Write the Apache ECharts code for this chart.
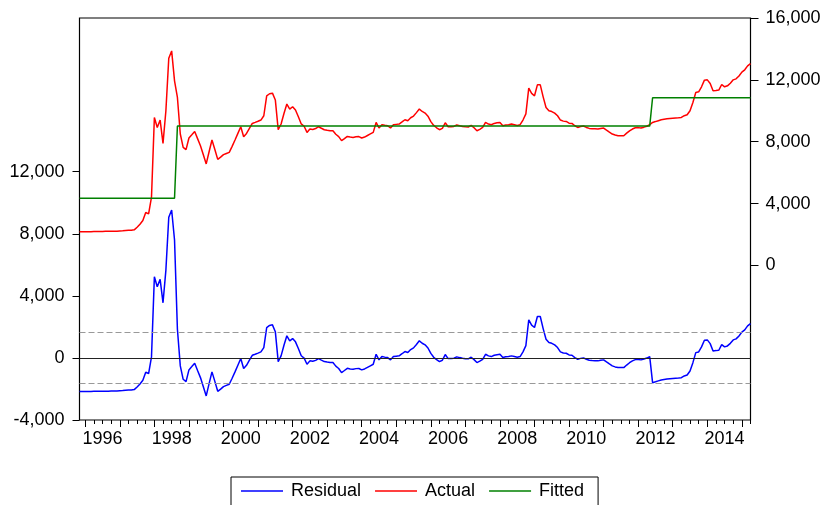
<!DOCTYPE html>
<html>
<head>
<meta charset="utf-8">
<script src="https://cdn.jsdelivr.net/npm/echarts@6/dist/echarts.min.js"></script>
<style>html,body{margin:0;padding:0;background:#fff}#c{width:824px;height:505px}</style>
</head>
<body>
<div id="c"></div>
<script>
// Monthly sample: 1995M11 .. 2015M4
const startYear = 1995, startMonth = 11;
const seriesNames = ['Residual', 'Actual', 'Fitted'];
const yearLabels = ['1996','1998','2000','2002','2004','2006','2008','2010','2012','2014'];
const leftTicks = [-4000, 0, 4000, 8000, 12000];
const rightTicks = [0, 4000, 8000, 12000, 16000];
const residualBand = 1650;

const actual = [
2170,2170,2175,2180,2180,2185,2190,2190,2195,2200,
2200,2205,2210,2215,2225,2235,2250,2265,2280,2300,
2470,2660,2900,3420,3335,4407,9568,8923,9400,7891,
10000,13400,13871,11935,10860,8497,7633,7484,8239,8450,
8665,8200,7742,7150,6561,7350,8110,7500,6858,7000,
7161,7240,7310,7700,8110,8540,8968,8323,8536,8860,
9181,9250,9320,9400,9678,10968,11100,11140,10700,8774,
9142,9826,10432,10110,10258,10045,9613,9150,9000,8600,
8820,8790,8850,8968,8870,8774,8740,8710,8710,8480,
8330,8065,8200,8342,8300,8278,8320,8330,8239,8300,
8400,8500,8600,9245,8884,9097,9060,9032,8884,9097,
9120,9142,9280,9420,9355,9550,9658,9880,10110,9955,
9852,9650,9300,9050,8900,8774,8858,9226,8968,8968,
8990,9078,9030,8987,8960,8949,9052,8900,8710,8800,
8923,9245,9142,9097,9181,9220,9245,9032,9080,9100,
9142,9100,9052,9097,9400,9800,11465,11120,10968,11678,
11678,10900,10213,10000,9950,9850,9678,9400,9330,9310,
9200,9181,9032,8923,8980,9013,8923,8860,8839,8830,
8820,8860,8884,8750,8620,8497,8430,8387,8387,8387,
8550,8700,8820,8900,8910,8884,8940,9000,9097,9245,
9300,9360,9420,9450,9480,9504,9520,9535,9550,9568,
9680,9742,10000,10536,11181,11226,11549,11981,12000,11762,
11291,11310,11336,11700,11549,11613,11780,12000,12065,12250,
12500,12650,12903,13050
];

const residual = [
-2170,-2170,-2165,-2160,-2160,-2155,-2150,-2150,-2145,-2140,
-2140,-2135,-2130,-2125,-2115,-2105,-2090,-2075,-2060,-2040,
-1870,-1680,-1440,-920,-1005,67,5228,4583,5060,3551,
5660,9060,9531,7595,1850,-513,-1377,-1526,-771,-560,
-345,-810,-1268,-1860,-2449,-1660,-900,-1510,-2152,-2010,
-1849,-1770,-1700,-1310,-900,-470,-42,-687,-474,-150,
171,240,310,390,668,1958,2090,2130,1690,-236,
132,816,1422,1100,1248,1035,603,140,-10,-410,
-190,-220,-160,-42,-140,-236,-270,-300,-300,-530,
-680,-945,-810,-668,-710,-732,-690,-680,-771,-710,
-610,-510,-410,235,-126,87,50,22,-126,87,
110,132,270,410,345,540,648,870,1100,945,
842,640,290,40,-110,-236,-152,216,-42,-42,
-20,68,20,-23,-50,-61,42,-110,-300,-210,
-87,235,132,87,171,210,235,22,70,90,
132,90,42,87,390,790,2455,2110,1958,2668,
2668,1890,1203,990,940,840,668,390,320,300,
190,171,22,-87,-30,3,-87,-150,-171,-180,
-190,-150,-126,-260,-390,-513,-580,-623,-623,-623,
-460,-310,-190,-110,-100,-126,-70,-10,87,-1595,
-1540,-1480,-1420,-1390,-1360,-1336,-1320,-1305,-1290,-1272,
-1160,-1098,-840,-304,341,386,709,1141,1160,922,
451,470,496,860,709,773,940,1160,1225,1410,
1660,1810,2063,2210
];

const fitted = [
4340,4340,4340,4340,4340,4340,4340,4340,4340,4340,
4340,4340,4340,4340,4340,4340,4340,4340,4340,4340,
4340,4340,4340,4340,4340,4340,4340,4340,4340,4340,
4340,4340,4340,4340,9010,9010,9010,9010,9010,9010,
9010,9010,9010,9010,9010,9010,9010,9010,9010,9010,
9010,9010,9010,9010,9010,9010,9010,9010,9010,9010,
9010,9010,9010,9010,9010,9010,9010,9010,9010,9010,
9010,9010,9010,9010,9010,9010,9010,9010,9010,9010,
9010,9010,9010,9010,9010,9010,9010,9010,9010,9010,
9010,9010,9010,9010,9010,9010,9010,9010,9010,9010,
9010,9010,9010,9010,9010,9010,9010,9010,9010,9010,
9010,9010,9010,9010,9010,9010,9010,9010,9010,9010,
9010,9010,9010,9010,9010,9010,9010,9010,9010,9010,
9010,9010,9010,9010,9010,9010,9010,9010,9010,9010,
9010,9010,9010,9010,9010,9010,9010,9010,9010,9010,
9010,9010,9010,9010,9010,9010,9010,9010,9010,9010,
9010,9010,9010,9010,9010,9010,9010,9010,9010,9010,
9010,9010,9010,9010,9010,9010,9010,9010,9010,9010,
9010,9010,9010,9010,9010,9010,9010,9010,9010,9010,
9010,9010,9010,9010,9010,9010,9010,9010,9010,10840,
10840,10840,10840,10840,10840,10840,10840,10840,10840,10840,
10840,10840,10840,10840,10840,10840,10840,10840,10840,10840,
10840,10840,10840,10840,10840,10840,10840,10840,10840,10840,
10840,10840,10840,10840
];

// month categories
const months = [];
for (let i = 0; i < actual.length; i++) {
  const m0 = startMonth - 1 + i;
  const y = startYear + Math.floor(m0 / 12);
  const m = (m0 % 12) + 1;
  months.push(y + 'M' + m);
}
const monthOf = v => parseInt(v.split('M')[1], 10);
const yearOf = v => v.split('M')[0];

const font = "'Liberation Sans', Arial, sans-serif";
const fmt = v => (v < 0 ? '-' : '') + Math.abs(v).toString().replace(/\B(?=(\d{3})+(?!\d))/g, ',');

const chart = echarts.init(document.getElementById('c'), null, {renderer: 'canvas'});
chart.setOption({
  animation: false,
  backgroundColor: '#ffffff',
  textStyle: {fontFamily: font},
  grid: [
    {left: 79.5, right: 73.5, top: 18, bottom: 85, show: true, borderColor: '#000', borderWidth: 1.2},
    {left: 79.5, right: 73.5, top: 171.7, bottom: 85},
    {left: 79.5, right: 73.5, top: 18, bottom: 239.6}
  ],
  legend: {
    data: seriesNames,
    left: 231, top: 477,
    icon: 'rect', itemWidth: 42, itemHeight: 1.5, itemGap: 14,
    padding: [5, 14, 6, 10],
    borderColor: '#000', borderWidth: 1,
    textStyle: {fontSize: 18, color: '#000', fontFamily: font, padding: [0, 0, 0, 3]}
  },
  xAxis: [
    {
      gridIndex: 0, type: 'category', data: months, boundaryGap: false, position: 'bottom',
      axisLine: {show: false, onZero: false},
      axisTick: {show: true, length: 4, lineStyle: {color: '#000'},
        interval: (i, v) => [1, 4, 7, 10].indexOf(monthOf(v)) >= 0},
      axisLabel: {
        interval: (i, v) => monthOf(v) === 7 && yearLabels.indexOf(yearOf(v)) >= 0,
        formatter: v => yearOf(v),
        fontSize: 18, color: '#000', margin: 10, fontFamily: font
      },
      splitLine: {show: false}
    },
    {
      gridIndex: 0, type: 'category', data: months, boundaryGap: false, position: 'bottom',
      axisLine: {show: false, onZero: false},
      axisTick: {show: true, length: 7, lineStyle: {color: '#000'},
        interval: (i, v) => monthOf(v) === 1},
      axisLabel: {show: false},
      splitLine: {show: false}
    },
    {gridIndex: 1, type: 'value', min: 0, max: 1, show: false, axisLine: {onZero: false}},
    {gridIndex: 2, type: 'value', min: 0, max: 1, show: false, axisLine: {onZero: false}}
  ],
  yAxis: [
    {gridIndex: 0, type: 'value', min: -4000, max: 21900, show: false, axisLine: {onZero: false}, splitLine: {show: false}},
    {gridIndex: 0, type: 'value', min: -10000, max: 16000, position: 'right', show: false, axisLine: {onZero: false}, splitLine: {show: false}},
    {
      gridIndex: 1, type: 'value', min: leftTicks[0], max: leftTicks[leftTicks.length - 1], interval: 4000,
      position: 'left', axisLine: {show: false, onZero: false},
      axisTick: {show: true, length: 7, lineStyle: {color: '#000'}},
      axisLabel: {formatter: fmt, fontSize: 18, color: '#000', margin: 15, fontFamily: font},
      splitLine: {show: false}
    },
    {
      gridIndex: 2, type: 'value', min: rightTicks[0], max: rightTicks[rightTicks.length - 1], interval: 4000,
      position: 'right', axisLine: {show: false, onZero: false},
      axisTick: {show: true, length: 8, lineStyle: {color: '#000'}},
      axisLabel: {formatter: fmt, fontSize: 18, color: '#000', margin: 15, fontFamily: font},
      splitLine: {show: false}
    }
  ],
  series: [
    {
      name: seriesNames[0], type: 'line', xAxisIndex: 0, yAxisIndex: 0, data: residual,
      showSymbol: false, symbol: 'none', color: '#0000ff', lineStyle: {width: 1.5, color: '#0000ff'},
      markLine: {
        silent: true, symbol: 'none', label: {show: false}, animation: false,
        data: [
          {yAxis: 0, lineStyle: {color: '#222', type: 'solid', width: 1}},
          {yAxis: residualBand, lineStyle: {color: '#999', type: [6, 3], width: 1}},
          {yAxis: -residualBand, lineStyle: {color: '#999', type: [6, 3], width: 1}}
        ]
      },
      z: 3
    },
    {
      name: seriesNames[1], type: 'line', xAxisIndex: 0, yAxisIndex: 1, data: actual,
      showSymbol: false, symbol: 'none', color: '#ff0000', lineStyle: {width: 1.5, color: '#ff0000'}, z: 3
    },
    {
      name: seriesNames[2], type: 'line', xAxisIndex: 0, yAxisIndex: 1, data: fitted,
      showSymbol: false, symbol: 'none', color: '#008000', lineStyle: {width: 1.5, color: '#008000'}, z: 4
    }
  ]
});
</script>
</body>
</html>
